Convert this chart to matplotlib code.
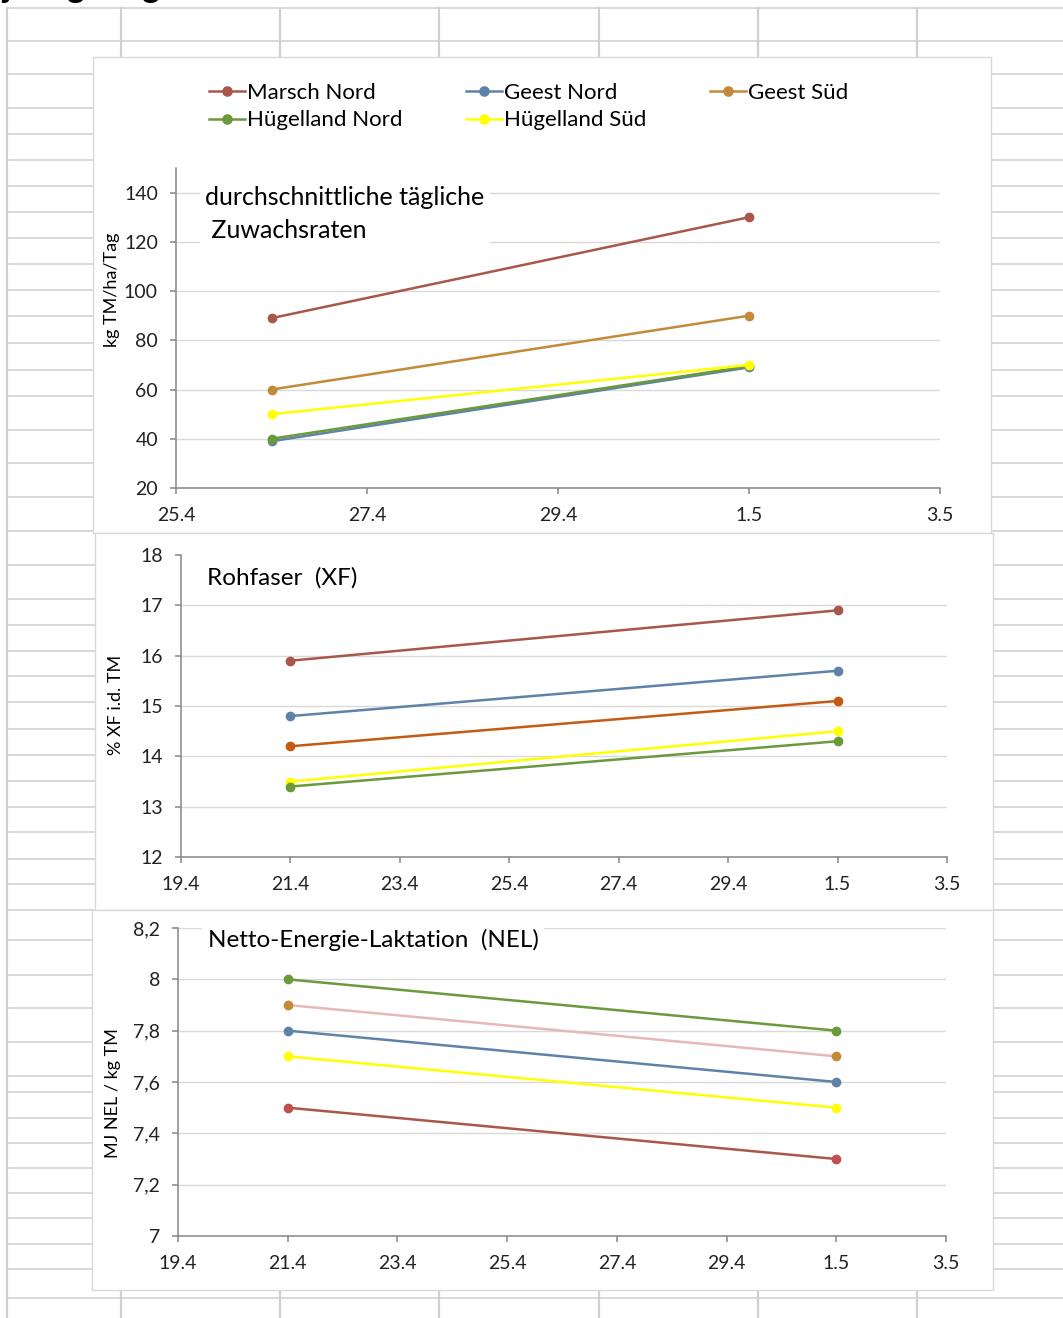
import datetime
import matplotlib
matplotlib.use("Agg")
import matplotlib.pyplot as plt
from matplotlib.patches import Rectangle

plt.rcParams['font.family'] = ['Lato', 'DejaVu Sans']

W, H = 1063, 1318

# Regionen / Legende
regionen = ["Marsch Nord", "Geest Nord", "Geest Süd", "Hügelland Nord", "Hügelland Süd"]

# Diagramm 1: Zuwachsraten (kg TM/ha/Tag)
zuwachs_datum = ["26.4", "1.5"]
zuwachs_ticks = ["25.4", "27.4", "29.4", "1.5", "3.5"]
zuwachs_werte = [[89, 130], [39, 69], [60, 90], [40, 69.5], [50, 70]]
zuwachs_farben = ["#a9574b", "#5f82a8", "#c38a3a", "#6a9a3c", "#ffff00"]

# Diagramm 2: Rohfaser (% XF i.d. TM)
xf_datum = ["21.4", "1.5"]
xf_ticks = ["19.4", "21.4", "23.4", "25.4", "27.4", "29.4", "1.5", "3.5"]
xf_werte = [[15.9, 16.9], [14.8, 15.7], [14.2, 15.1], [13.5, 14.5], [13.4, 14.3]]
xf_farben = ["#a9574b", "#5f82a8", "#c55a11", "#ffff00", "#6a9a3c"]

# Diagramm 3: NEL (MJ NEL / kg TM)
nel_datum = ["21.4", "1.5"]
nel_ticks = ["19.4", "21.4", "23.4", "25.4", "27.4", "29.4", "1.5", "3.5"]
nel_werte = [[8.0, 7.8], [7.9, 7.7], [7.8, 7.6], [7.7, 7.5], [7.5, 7.3]]
nel_linien = ["#6a9a3c", "#e6b9b8", "#5f82a8", "#ffff00", "#a9574b"]
nel_punkte = ["#6a9a3c", "#c38a3a", "#5f82a8", "#ffff00", "#c0504d"]


def tag(s):
    d, m = s.split(".")
    return datetime.date(2015, int(m), int(d)).toordinal()


def fx(px):
    return px / W


def fy(py):
    return 1 - py / H


def achse(fig, l, t, r, b):
    ax = fig.add_axes([fx(l), fy(b), (r - l) / W, (b - t) / H])
    ax.patch.set_alpha(0)
    for s in ["top", "right"]:
        ax.spines[s].set_visible(False)
    for s in ["left", "bottom"]:
        ax.spines[s].set_color("#868686")
        ax.spines[s].set_linewidth(1.1)
    ax.tick_params(direction="out", length=4, width=1.1, color="#868686",
                   labelsize=14, labelcolor="#222222")
    ax.tick_params(axis="x", pad=10)
    ax.tick_params(axis="y", pad=9)
    ax.yaxis.grid(True, color="#d9d9d9", lw=1)
    ax.set_axisbelow(True)
    return ax


def x_achse(ax, ticks):
    ax.set_xticks([tag(t) for t in ticks])
    ax.set_xticklabels(ticks)
    ax.set_xlim(tag(ticks[0]), tag(ticks[-1]))


def main():
    fig = plt.figure(figsize=(W / 100, H / 100), dpi=100)

    # Tabellenraster im Hintergrund
    bg = fig.add_axes([0, 0, 1, 1])
    bg.set_xlim(0, W)
    bg.set_ylim(H, 0)
    bg.axis("off")
    zeilen = [8, 41, 74, 108, 134, 160, 186, 212, 238, 264, 290, 316, 343, 370, 396,
              430, 463, 497, 531, 565, 599, 625, 651, 676, 702, 729, 755, 781, 807,
              832, 859, 884, 910, 940, 975, 1008, 1042, 1076, 1092, 1118, 1143, 1168,
              1193, 1218, 1244, 1269, 1298]
    spalten = [7, 121, 280, 439, 599, 758, 917]
    for y in zeilen:
        bg.plot([7, W], [y, y], color="#d6d6d6", lw=1.3, zorder=1)
    for x in spalten:
        bg.plot([x, x], [8, H], color="#d0d0d0", lw=1.6, zorder=1)
    for (l, t, r, b) in [(93, 57, 991, 533), (95, 533, 993, 910), (92, 910, 993, 1290)]:
        bg.add_patch(Rectangle((l, t), r - l, b - t, fc="white", ec="#d9d9d9", lw=1, zorder=2))

    # Überschrift (oben abgeschnitten wie im Tabellenblatt)
    fig.text(fx(2), fy(-2), "jährige Ergebnisse", fontsize=24, fontweight="bold",
             va="baseline", ha="left")

    # Diagramm 1
    ax1 = achse(fig, 176, 168, 940, 488)
    linien = []
    for werte, farbe, name in zip(zuwachs_werte, zuwachs_farben, regionen):
        ln, = ax1.plot([tag(d) for d in zuwachs_datum], werte, color=farbe, lw=1.8,
                       marker="o", ms=6, mfc=farbe, mec=farbe, label=name)
        linien.append(ln)
    x_achse(ax1, zuwachs_ticks)
    ax1.set_ylim(20, 150)
    ax1.set_yticks(range(20, 141, 20))
    fig.text(fx(112), fy(290), "kg TM/ha/Tag", rotation=90, fontsize=13,
             ha="center", va="center")
    fig.text(fx(205), fy(214), "durchschnittliche tägliche\n Zuwachsraten", fontsize=18,
             linespacing=1.5, ha="left", va="center",
             bbox=dict(fc="white", ec="none", pad=4))

    reihenfolge = [0, 3, 1, 4, 2]
    fig.legend([linien[i] for i in reihenfolge], [regionen[i] for i in reihenfolge],
               ncol=3, loc="upper left", bbox_to_anchor=(fx(209), fy(83)),
               frameon=False, fontsize=16, handlelength=1.6, handletextpad=0.12,
               columnspacing=2.85, labelspacing=0.33, borderpad=0, borderaxespad=0,
               markerscale=1.1)

    # Diagramm 2
    ax2 = achse(fig, 181, 555, 947, 857)
    for werte, farbe in zip(xf_werte, xf_farben):
        ax2.plot([tag(d) for d in xf_datum], werte, color=farbe, lw=1.8,
                 marker="o", ms=6, mfc=farbe, mec=farbe)
    x_achse(ax2, xf_ticks)
    ax2.set_ylim(12, 18)
    ax2.set_yticks(range(12, 19))
    ax2.get_ygridlines()[-1].set_visible(False)
    fig.text(fx(116), fy(705), "% XF i.d. TM", rotation=90, fontsize=13,
             ha="center", va="center")
    fig.text(fx(207), fy(578), "Rohfaser  (XF)", fontsize=17.5, ha="left", va="center",
             bbox=dict(fc="white", ec="none", pad=3))

    # Diagramm 3
    ax3 = achse(fig, 178, 928, 946, 1236)
    for werte, lf, pf in zip(nel_werte, nel_linien, nel_punkte):
        ax3.plot([tag(d) for d in nel_datum], werte, color=lf, lw=1.8,
                 marker="o", ms=6, mfc=pf, mec=pf)
    x_achse(ax3, nel_ticks)
    ax3.set_ylim(7, 8.2)
    yt = [7, 7.2, 7.4, 7.6, 7.8, 8, 8.2]
    ax3.set_yticks(yt)
    ax3.set_yticklabels([("%g" % v).replace(".", ",") for v in yt])
    fig.text(fx(113), fy(1093), "MJ NEL / kg TM", rotation=90, fontsize=13,
             ha="center", va="center")
    fig.text(fx(208), fy(940), "Netto-Energie-Laktation  (NEL)", fontsize=17.5,
             ha="left", va="center", bbox=dict(fc="white", ec="none", pad=4))

    fig.savefig("out.png", dpi=100)


if __name__ == "__main__":
    main()
